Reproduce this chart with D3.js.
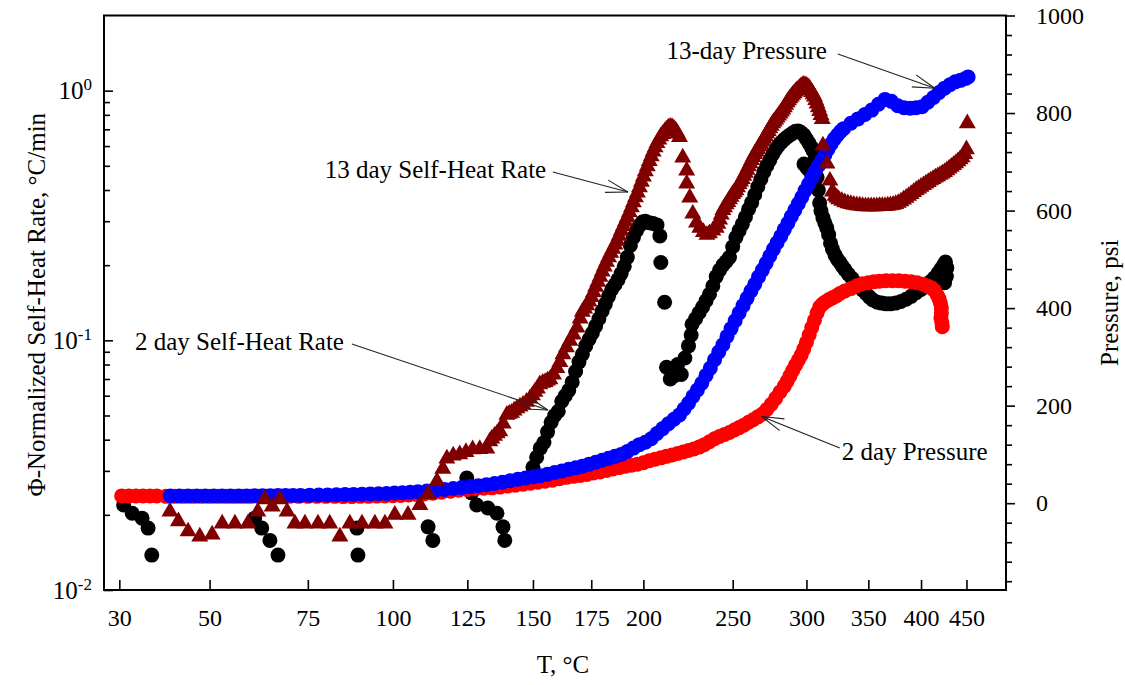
<!DOCTYPE html>
<html><head><meta charset="utf-8">
<script src="https://cdn.jsdelivr.net/npm/d3@7"></script>
<style>
body{margin:0;background:#fff;}
svg{display:block;font-family:"Liberation Serif","Times New Roman",serif;}
</style></head><body>
<svg id="c" width="1125" height="685"></svg>
<script>
// ---------- data (T in °C) ----------
const xTicksC = [30,50,75,100,125,150,175,200,250,300,350,400,450];
const leftMajorTicks = [0.01,0.1,1];
const leftMinorTicks = [0.02,0.03,0.04,0.05,0.06,0.07,0.08,0.09,0.2,0.3,0.4,0.5,0.6,0.7,0.8,0.9];
const rightMajorTicks = [0,200,400,600,800,1000];
const rightMinorTicks = [-160,-120,-80,-40,40,80,120,160,240,280,320,360,440,480,520,560,640,680,720,760,840,880,920,960];

// 2 day Self-Heat Rate (°C/min)
const shr2day = [
[30.9,0.0219],[32.7,0.0203],[34.8,0.0194],[36.1,0.0177],[36.9,0.0138],
[61.0,0.0194],[62.8,0.0177],[64.9,0.0158],[67.0,0.0138],
[89.0,0.0177],[89.3,0.0138],[111.4,0.0179],[113.0,0.0158],
[124.8,0.0281],[126.5,0.0245],[128.4,0.0219],[132.5,0.0213],[135.9,0.0203],[138.2,0.0179],[138.9,0.0158],
[150,0.031],[151.5,0.034],[153,0.037],[154.5,0.039],[156,0.043],[157.5,0.047],[159,0.050],[160.5,0.052],
[162,0.057],[163.5,0.060],[165,0.063],[166.5,0.068],[168,0.075],[169.5,0.082],[171,0.088],[172.5,0.095],
[174,0.101],[175.5,0.107],[177,0.114],[178.5,0.122],[180,0.131],[181.5,0.140],[183,0.150],[184.5,0.160],
[186,0.167],[187.5,0.175],[189,0.185],[190.5,0.198],[192,0.215],[193.5,0.240],[195,0.258],[196.5,0.275],
[198,0.288],[199.5,0.298],[201,0.300],[203,0.296],[205,0.294],[207,0.290],[208.5,0.262],[209,0.205],[211,0.142],
[212,0.078],[214,0.070],[216,0.072],[218,0.080],[220,0.073],[222,0.085],[224,0.095],[225.5,0.105],
[226,0.116],[228,0.122],[230,0.129],[232,0.136],[234,0.144],[236,0.153],[238,0.165],[240,0.180],
[242,0.191],[244,0.200],[246,0.207],[248,0.215],[250,0.237],[252,0.258],[254,0.275],[256,0.292],
[258,0.312],[260,0.335],[262,0.356],[264,0.383],[266,0.412],[268,0.442],[270,0.472],[272,0.500],
[274,0.527],[276,0.556],[278,0.582],[280,0.604],[282,0.622],[284,0.638],[286,0.652],[288,0.664],
[290,0.676],[292,0.688],[294,0.690],[296,0.680],[298,0.665],[300,0.640],[302,0.615],[304,0.590],
[298.2,0.508],[300.5,0.490],[302.6,0.476],
[305,0.575],[306.5,0.53],[308,0.45],[309,0.40],[310,0.355],[311,0.33],[312.5,0.31],[314,0.295],
[315.5,0.282],[317,0.265],[318.5,0.245],[320,0.232],[322,0.220],[324,0.211],[326,0.205],[328,0.198],
[330,0.192],[333,0.184],[336,0.177],[339,0.170],[342,0.164],[345,0.159],[348,0.154],[351,0.149],
[354,0.145],[358,0.142],[362,0.141],[366,0.140],[370,0.140],[375,0.141],[380,0.143],[385,0.146],
[390,0.150],[395,0.155],[400,0.160],[405,0.166],[410,0.172],[414,0.178],[418,0.186],[421,0.193],
[424,0.200],[426,0.206],[427.5,0.195],[427,0.18],[425,0.17]
];

// 13 day Self-Heat Rate (°C/min)
const shr13day = [
[40.9,0.0209],[42.8,0.0191],[45.0,0.0174],[47.7,0.0166],[50.6,0.0169],[53.0,0.0187],[56.1,0.0187],[59.3,0.0187],
[61.8,0.0209],[63.6,0.0234],[65.5,0.0219],[67.5,0.0234],[69.4,0.0209],[71.5,0.0187],[74.2,0.0187],[77.8,0.0187],
[81.1,0.0187],[84.0,0.0166],[86.9,0.0187],[90.5,0.0187],[94.4,0.0187],[97.5,0.0187],[100.6,0.0203],[104.8,0.0203],
[108.7,0.0222],[111.4,0.0245],[114.4,0.0276],[116.4,0.031],[117.8,0.0341],[120,0.0350],[122.3,0.0354],[124.5,0.0362],
[126.9,0.0371],[129.5,0.0372],[132.1,0.0374],[133.2,0.0399],[134,0.041],[135,0.042],[136,0.043],[137.0,0.0438],
[138.3,0.047],[139.7,0.051],[140.6,0.0515],[141.5,0.052],[142.5,0.053],[143.6,0.0541],[144.8,0.055],[146,0.056],
[147.4,0.0575],[148.8,0.0593],[149.8,0.061],[150.8,0.063],[151.8,0.065],[152.8,0.0676],[154,0.0685],[155,0.069],
[156,0.070],[157.0,0.0708],[158.5,0.074],[159.9,0.0784],[161.2,0.083],[162.5,0.0892],[164,0.095],[165.5,0.101],
[167,0.107],[168.6,0.114],[170,0.124],[171,0.132],[172,0.136],[173,0.140],[174,0.145],[175,0.151],[176,0.158],
[177,0.166],[178,0.174],[179,0.182],[180,0.191],[181,0.200],[182,0.209],[183,0.218],[184,0.227],[185,0.236],
[186,0.245],[187,0.254],[188,0.266],[189,0.278],[190,0.290],[191,0.303],[192,0.316],[193,0.330],[194,0.346],
[195,0.362],[196,0.379],[197,0.396],[198,0.416],[199,0.437],[200,0.459],[201,0.482],[202,0.505],[203,0.529],
[204,0.553],[205,0.578],[206,0.601],[207,0.625],[208,0.645],[209,0.665],[210,0.680],[211,0.695],[212,0.709],
[213,0.722],[214,0.726],[215,0.725],[216,0.715],[217,0.702],[218,0.682],[219,0.66],[220.8,0.547],[223,0.485],
[223,0.430],[224.7,0.378],[226.4,0.326],[228.5,0.300],[230.4,0.286],[232.5,0.275],[234.5,0.268],[236,0.272],
[238,0.279],[240,0.286],[241,0.297],[242,0.309],[243,0.323],[244,0.337],[245,0.346],[246,0.355],[247,0.363],
[248,0.372],[249,0.381],[250,0.391],[251,0.397],[252,0.404],[253,0.416],[254,0.428],[255,0.438],[256,0.449],
[257,0.462],[258,0.475],[259,0.489],[260,0.504],[261,0.519],[262,0.535],[263,0.550],[264,0.565],[265,0.578],
[266,0.592],[267,0.606],[268,0.620],[269,0.635],[270,0.650],[271,0.666],[272,0.682],[273,0.699],[274,0.716],
[275,0.733],[276,0.750],[277,0.763],[278,0.776],[279,0.790],[280,0.805],[281,0.820],[282,0.835],[283,0.852],
[284,0.870],[285,0.890],[286,0.910],[287,0.927],[288,0.945],[289,0.960],[290,0.975],[291,0.990],[292,1.005],
[293,1.017],[294,1.03],[295,1.042],[296,1.055],[297,1.062],[298,1.07],[299,1.066],[300,1.06],[301,1.05],
[302,1.04],[303,1.02],[304,1.0],[305,0.98],[306,0.96],[307,0.93],[308,0.90],[309,0.87],[310,0.84],[311,0.81],
[312,0.78],[312.5,0.611],[315.7,0.517],[318,0.442],[320,0.40],[322,0.384],[323.5,0.378],
[325,0.372],[327.5,0.367],[330,0.362],[332.5,0.359],[335,0.356],[337.5,0.354],[340,0.352],[342.5,0.351],
[345,0.350],[347.5,0.349],[350,0.349],[352.5,0.349],[355,0.349],[357.5,0.349],[360,0.350],[362.5,0.350],
[365,0.350],[367.5,0.351],[370,0.352],[372.5,0.354],[375,0.356],[377.5,0.360],[380,0.365],[382.5,0.371],
[385,0.377],[387.5,0.384],[390,0.391],[392.5,0.398],[395,0.405],[397.5,0.411],[400,0.418],[402.5,0.424],
[405,0.430],[407.5,0.436],[410,0.443],[412.5,0.449],[415,0.455],[417.5,0.460],[420,0.466],[422.5,0.472],
[425,0.478],[427.5,0.486],[430,0.494],[432.5,0.502],[435,0.510],[437.5,0.519],[440,0.528],[442.5,0.538],
[445,0.548],[448,0.565],[450,0.59],[451,0.75]
];

// 2 day Pressure (psi)
const press2day = [
[30.5,15],[32,15],[33.5,15],[35,15],[36.5,15],[38,15],[40,14],[42,14],[44,14],[46,14],[48,14],[50,14],
[52,14],[54,14],[56,14],[58,14],[60,14],[62,14],[64,14],[66,14],[68,14],[70,14],[72.5,14],[75,14],
[77.5,14],[80,14],[82.5,14],[85,13.5],[87.5,13.5],[90,14],[92.5,14],[95,14.5],[97.5,15],[100,15.5],
[102.5,16],[105,17],[107.5,18],[110,19],[113,20.5],[116,22.5],[119,24.5],[122,26.5],[125,28],[128,29.5],
[131,30.5],[134,31.5],[137,33],[140,35],[143,37],[146,39],[149,41],[152,43],[155,45],[158,47],
[161,50],[164,53],[167,55],[170,57],[173,59],[176,62],[179,64],[182,67],[185,70],[188,73],
[191,76],[194,78],[197,80],[200,83],[203,87],[206,90],[209,93],[212,96],[215,99],[218,102],
[221,105],[224,108],[227,111],[230,115],[233,120],[236,126],[239,132],[242,137],[245,141],[248,145],
[251,150],[254,155],[257,160],[260,166],[263,171],[266,177],[269,183],[272,192],[275,203],[278,215],
[281,228],[284,240],[286,250],[288,261],[290,272],[292,283],[294,293],[296,303],[298,316],[300,330],
[302,345],[304,360],[306,375],[308,390],[310,402],[312,408],[314,412],[317,417],[320,421],[323,425],
[326,430],[330,435],[335,440],[340,446],[345,450],[350,452],[355,454],[360,455],[366,456],[372,456],
[378,456],[384,455],[390,454],[396,452],[402,449],[407,445],[411,441],[414,436],[417,427],[419,419],
[420.5,410],[421.5,400],[421.5,390],[421,380],[422,370],[422.5,362]
];

// 13-day Pressure (psi)
const press13day = [
[41,15],[43,15],[45,15],[47,15],[49,15],[51,15],[53,15],[55,15],[57,15],[59,15],[61,15.5],[63,15.5],
[65,15.5],[67,16],[69,16],[71,16],[73,16],[75.5,16.5],[78,17],[80.5,17],[83,17.5],[85.5,18],[88,18],[90.5,18.5],
[93,19],[95.5,19.5],[98,20],[100.5,21],[103,21.5],[105.5,22.5],[108,23.5],[111,25],[114,26.5],[117,28],
[120,30],[123,32],[126,34],[129,36],[132,38],[135,40.5],[138,43],[141,46],[144,49],[147,51.5],
[150,54],[153,56.5],[156,59.5],[159,63],[162,66],[165,69.5],[168,72.5],[171,76],[174,80],[177,84],
[180,88],[183,92],[186,96],[189,100],[192,106],[195,113],[198,120],[201,125],[204,132],[207,143],
[210,153],[213,163],[216,172],[219,181],[221.5,193],[224,205],[226.5,219],[229,232],[231.5,246],[234,262],
[236.5,277],[239,294],[241.5,310],[244,325],[246.5,342],[249,358],[251.5,374],[254,390],[256.5,405],[259,420],
[261.5,435],[264,449],[266.5,464],[269,478],[271.5,492],[274,507],[276.5,521],[279,534],[281.5,547],[284,561],
[286.5,574],[289,588],[291.5,601],[294,614],[296.5,627],[299,641],[301.5,654],[304,667],[306.5,680],[309,692],
[311.5,703],[314,714],[316.5,726],[319,737],[321.5,747],[324,755],[326.5,762],[329,768],[335,779],[341,788],
[347,797],[353,806],[359,818],[365,828],[371,824],[377,815],[383,811],[389,810],[395,811],[401,813],
[407,822],[413,832],[419,842],[425,851],[431,858],[437,864],[443,867],[449,871],[452,874]
];

// ---------- layout ----------
const L = 104, R = 1006, TOP = 15.5, B = 590;
const FONT = 24, TFONT = 25;
const toU = c => -1000 / (c + 273.15);          // reciprocal-temperature axis
const xs = d3.scaleLinear().domain([toU(26.85), toU(500)]).range([L, R]);
const X = c => xs(toU(c));
const yL = d3.scaleLog().domain([0.01, 2]).range([B, TOP]);
const yR = d3.scaleLinear().domain([-178, 1000]).range([B, TOP]);

const svg = d3.select("#c");
svg.append("rect").attr("width",1125).attr("height",685).attr("fill","#fff");

// ---------- series ----------
const g = svg.append("g");
g.append("g").selectAll("circle").data(shr2day).join("circle")
  .attr("cx", d => X(d[0])).attr("cy", d => yL(d[1])).attr("r", 7.5).attr("fill", "#000");
g.append("g").selectAll("circle").data(press2day).join("circle")
  .attr("cx", d => X(d[0])).attr("cy", d => yR(d[1])).attr("r", 7.5).attr("fill", "#ff0000");
g.append("g").selectAll("circle").data(press13day).join("circle")
  .attr("cx", d => X(d[0])).attr("cy", d => yR(d[1])).attr("r", 7.5).attr("fill", "#0000ff");
const tri = d3.symbol().type(d3.symbolTriangle).size(125);
g.append("g").selectAll("path").data(shr13day).join("path")
  .attr("d", tri).attr("transform", d => `translate(${X(d[0])},${yL(d[1]) + 1.5})`).attr("fill", "#800000");

// ---------- axes ----------
function styleAxis(sel){
  sel.select(".domain").remove();
  sel.selectAll(".tick line").attr("stroke","#000").attr("stroke-width",1.6);
  sel.selectAll(".tick text").attr("fill","#000").attr("font-size",FONT).attr("font-family",'"Liberation Serif","Times New Roman",serif');
}
const axB = svg.append("g").attr("transform",`translate(0,${B})`)
  .call(d3.axisBottom(xs).tickValues(xTicksC.map(toU))
        .tickFormat(u => d3.format("d")(Math.round(-1000/u - 273.15)))
        .tickSizeInner(-10).tickSizeOuter(0).tickPadding(19));
styleAxis(axB);

const axLmin = svg.append("g").attr("transform",`translate(${L},0)`)
  .call(d3.axisLeft(yL).tickValues(leftMinorTicks).tickFormat("").tickSizeInner(-6).tickSizeOuter(0));
styleAxis(axLmin);
const axL = svg.append("g").attr("transform",`translate(${L},0)`)
  .call(d3.axisLeft(yL).tickValues(leftMajorTicks).tickFormat("").tickSizeInner(-9).tickSizeOuter(0).tickPadding(12));
styleAxis(axL);
axL.selectAll(".tick text").each(function(d){
  const t = d3.select(this);
  t.text(null).attr("font-size",TFONT);
  t.append("tspan").text("10");
  t.append("tspan").attr("font-size",17).attr("dy",-9).text(String(Math.round(Math.log10(d))));
});

const axRmin = svg.append("g").attr("transform",`translate(${R},0)`)
  .call(d3.axisRight(yR).tickValues(rightMinorTicks).tickFormat("").tickSizeInner(6).tickSizeOuter(0));
styleAxis(axRmin);
const axR = svg.append("g").attr("transform",`translate(${R},0)`)
  .call(d3.axisRight(yR).tickValues(rightMajorTicks).tickFormat(d3.format("d")).tickSizeInner(9).tickSizeOuter(0).tickPadding(21));
styleAxis(axR);

// frame
svg.append("rect").attr("x",L).attr("y",TOP).attr("width",R-L).attr("height",B-TOP)
  .attr("fill","none").attr("stroke","#000").attr("stroke-width",2);

// ---------- titles ----------
svg.append("text").attr("x",563).attr("y",673).attr("text-anchor","middle")
  .attr("font-size",TFONT).text("T, °C");
svg.append("text").attr("transform",`translate(45,${(TOP+B)/2 + 2}) rotate(-90)`).attr("text-anchor","middle")
  .attr("font-size",TFONT).text("Φ-Normalized Self-Heat Rate, °C/min");
svg.append("text").attr("transform",`translate(1118,${(TOP+B)/2}) rotate(-90)`).attr("text-anchor","middle")
  .attr("font-size",TFONT).text("Pressure, psi");

// ---------- annotations (positions in data space) ----------
function arrow(x1,y1,x2,y2){
  const a = Math.atan2(y1-y2, x1-x2), len = 23, h = 16*Math.PI/180;
  const ga = svg.append("g").attr("stroke","#222").attr("stroke-width",1.1).attr("fill","none");
  ga.append("line").attr("x1",x1).attr("y1",y1).attr("x2",x2).attr("y2",y2);
  [a+h, a-h].forEach(b => ga.append("line").attr("x1",x2).attr("y1",y2)
     .attr("x2",x2+len*Math.cos(b)).attr("y2",y2+len*Math.sin(b)));
}
function label(x,y,txt){
  svg.append("text").attr("x",x).attr("y",y).attr("font-size",TFONT).text(txt);
}
label(X(212.0), yR(910.8), "13-day Pressure");
arrow(X(324.3), yR(921.1), X(414.4), yR(850.8));
label(X(79.7), yL(0.447), "13 day Self-Heat Rate");
arrow(X(158.2), yL(0.472), X(192.3), yL(0.393));
label(X(33.3), yL(0.0915), "2 day Self-Heat Rate");
arrow(X(87.5), yL(0.0967), X(156.1), yL(0.0526));
label(X(327.5), yR(88.7), "2 day Pressure");
arrow(X(325.9), yR(113.2), X(268.5), yR(177.8));
</script>
</body></html>
